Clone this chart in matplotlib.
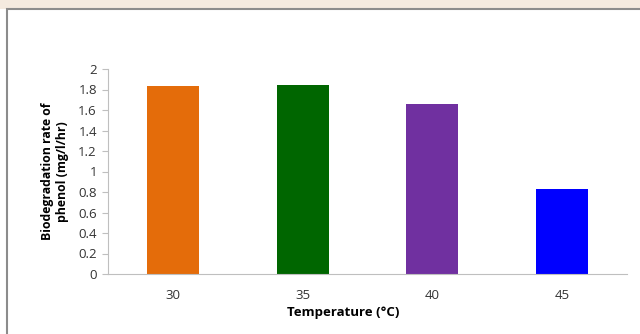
import matplotlib.pyplot as plt
from matplotlib.patches import Rectangle

temps = ['30', '35', '40', '45']
rates = [1.83, 1.84, 1.66, 0.83]
colors = ['#E46C0A', '#006600', '#7030A0', '#0000FF']
yticks = [0, 0.2, 0.4, 0.6, 0.8, 1, 1.2, 1.4, 1.6, 1.8, 2]

plt.rcParams['font.family'] = ['Open Sans', 'DejaVu Sans']

fig = plt.figure(figsize=(6.4, 3.34), dpi=100)
# faded background strip above the chart frame and the frame itself
fig.patches.append(Rectangle((0, 1 - 9/334), 1, 9/334, transform=fig.transFigure,
                             facecolor='#F4EADF', edgecolor='none', zorder=-2))
fig.patches.append(Rectangle((7/640, -0.05), 1.1, 1 - 9/334 + 0.05, transform=fig.transFigure,
                             facecolor='white', edgecolor='#8C8C8C', linewidth=1.5, zorder=-1))

ax = fig.add_axes([108/640, 60/334, 519/640, 205/334])
ax.patch.set_alpha(0)
x = range(len(temps))
ax.bar(x, rates, width=0.4, color=colors)
ax.set_xlim(-0.5, len(temps) - 0.5)
ax.set_ylim(0, 2)
ax.set_yticks(yticks)
ax.set_yticklabels([f'{v:g}' for v in yticks])
ax.set_xticks(list(x))
ax.set_xticklabels(temps)

for s in ['top', 'right']:
    ax.spines[s].set_visible(False)
ax.spines['left'].set_color('#BFBFBF')
ax.spines['bottom'].set_color('#BFBFBF')
ax.tick_params(axis='y', colors='#BFBFBF', labelcolor='#333333', labelsize=9.5, length=4, pad=4)
ax.tick_params(axis='x', length=0, labelcolor='#333333', labelsize=9.5, pad=11)

ax.set_xlabel('Temperature (°C)', fontsize=9.5, fontweight='bold')
ax.xaxis.set_label_coords(0.453, -0.158)
ax.set_ylabel('Biodegradation rate of\nphenol (mg/l/hr)', fontsize=8.8, fontweight='bold', labelpad=7)

fig.savefig('out.png', dpi=100)
